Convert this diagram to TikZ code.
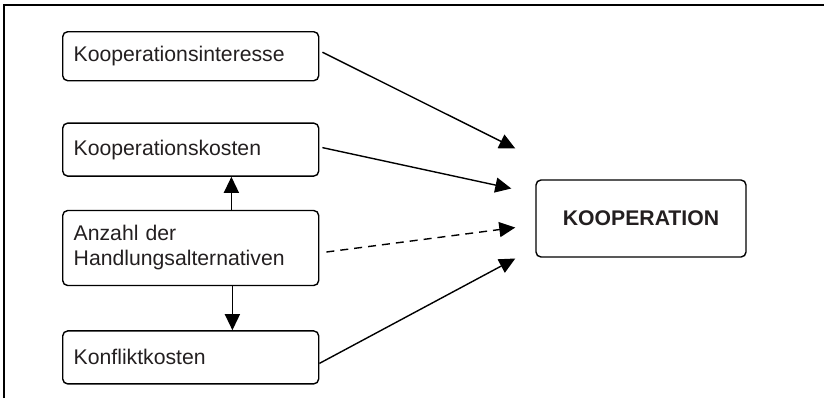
\documentclass[tikz,border=0pt]{standalone}
\usepackage{fontspec}
\setmainfont{Liberation Sans}
\usetikzlibrary{arrows.meta,positioning,calc}

\definecolor{schrift}{RGB}{35,31,32}

\begin{document}
\begin{tikzpicture}[x=0.5pt,y=-0.5pt,
	faktor/.style={draw,line width=0.7pt,rounded corners=2.5pt,text=schrift,
		text width=117pt,align=left,inner xsep=5.5pt,inner ysep=0pt,
		font=\fontsize{10.6}{12.5}\selectfont},
	ziel/.style={draw,line width=0.7pt,rounded corners=2.5pt,text=schrift,
		minimum width=105pt,minimum height=38.5pt,
		font=\fontsize{10.6}{12.5}\selectfont\bfseries},
	pfeil/.style={line width=0.7pt,-{Triangle[length=8pt,width=7.5pt]}}]

	\useasboundingbox (0,0) rectangle (824,398);
	\draw[line width=1pt] (4,398) -- (4,5) -- (824,5);

	\node[faktor,anchor=north west,minimum height=24.5pt](interesse) at (62,31) {Kooperationsinteresse};
	\node[faktor,below=20.5pt of interesse,minimum height=26.5pt](kosten) {Kooperationskosten};
	\node[faktor,below=16.5pt of kosten,minimum height=37.5pt](anzahl) {Anzahl der\\Handlungsalternativen};
	\node[faktor,below=22pt of anzahl,minimum height=26.5pt](konflikt) {Konfliktkosten};

	\node[ziel](koop) at (641,218.5) {KOOPERATION};
		\coordinate (ein1) at ($(koop.west)+(-10pt,35pt)$);
		\coordinate (ein2) at ($(koop.west)+(-12pt,15pt)$);
		\coordinate (ein3) at ($(koop.west)+(-10pt,-4.5pt)$);
		\coordinate (ein4) at ($(koop.west)+(-10pt,-20pt)$);

	\draw[pfeil] ([xshift=1.5pt,yshift=2pt]interesse.east) -- (ein1);
	\draw[pfeil] ([xshift=1.5pt,yshift=1pt]kosten.east) -- (ein2);
	\draw[pfeil,dashed,dash pattern=on 4pt off 3pt] ([xshift=3.5pt,yshift=-2pt]anzahl.east) -- (ein3);
	\draw[pfeil] ([yshift=-3pt]konflikt.east) -- (ein4);

	\draw[pfeil] ([xshift=-44pt]anzahl.north east) -- ([xshift=-44pt]kosten.south east);
	\draw[pfeil] ([xshift=-43.5pt]anzahl.south east) -- ([xshift=-43.5pt]konflikt.north east);

\end{tikzpicture}
\end{document}
